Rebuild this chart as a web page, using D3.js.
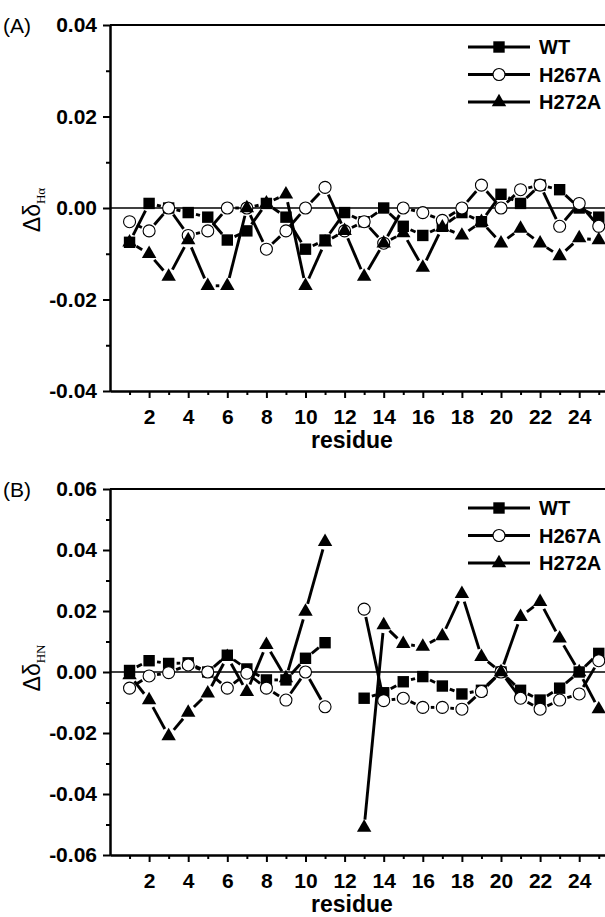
<!DOCTYPE html>
<html>
<head>
<meta charset="utf-8">
<script src="https://cdn.jsdelivr.net/npm/d3@7"></script>
<style>
  body { margin: 0; background: #fff; }
  svg { display: block; }
  .tick text { font-family: "Liberation Sans", Arial, sans-serif; font-weight: bold; font-size: 21px; fill: #000; }
</style>
</head>
<body>
<div id="chart"></div>
<script>
// residue numbers (x categories)
const residues = [1, 2, 3, 4, 5, 6, 7, 8, 9, 10, 11, 12, 13, 14, 15, 16, 17, 18, 19, 20, 21, 22, 23, 24, 25];

// panel A: delta delta H-alpha
const haWT    = [-0.0075, 0.001, 0.000, -0.001, -0.002, -0.007, -0.005, 0.001, -0.002, -0.009, -0.007, -0.001, -0.003, 0.000, -0.004, -0.006, -0.004, -0.001, -0.003, 0.003, 0.001, 0.005, 0.004, 0.000, -0.002];
const haH267A = [-0.003, -0.005, 0.000, -0.006, -0.005, 0.000, 0.000, -0.009, -0.005, 0.000, 0.0045, -0.005, -0.003, -0.0077, 0.000, -0.001, -0.0027, 0.000, 0.005, 0.000, 0.004, 0.005, -0.004, 0.001, -0.004];
const haH272A = [-0.0075, -0.010, -0.015, -0.007, -0.017, -0.017, 0.000, 0.001, 0.003, -0.017, -0.0075, -0.005, -0.015, -0.0077, -0.0055, -0.013, -0.0042, -0.006, -0.003, -0.0077, -0.0045, -0.0077, -0.0105, -0.0066, -0.007];

// panel B: delta delta HN (residue 12 missing)
const hnWT    = [0.0005, 0.0037, 0.0028, 0.003, 0.000, 0.0055, 0.001, -0.0026, -0.0026, 0.0045, 0.0096, null, -0.0086, -0.0068, -0.0032, -0.0015, -0.0046, -0.0072, -0.006, 0.000, -0.006, -0.0092, -0.0053, 0.000, 0.0061];
const hnH267A = [-0.0053, -0.0013, -0.0002, 0.0023, 0.000, -0.0053, -0.0004, -0.0053, -0.0092, 0.000, -0.0114, null, 0.0206, -0.0094, -0.0086, -0.0116, -0.0116, -0.0122, -0.0064, 0.000, -0.0086, -0.0122, -0.0092, -0.0072, 0.0037];
const hnH272A = [-0.001, -0.0092, -0.021, -0.0133, -0.007, 0.005, -0.0065, 0.0089, -0.002, 0.0198, 0.0427, null, -0.051, 0.0154, 0.0092, 0.0083, 0.0118, 0.0256, 0.005, 0.000, 0.0181, 0.023, 0.011, 0.000, -0.0122];

const seriesNames = ["WT", "H267A", "H272A"];
const markers = ["square", "circle", "triangle"];

const xMajor = [2, 4, 6, 8, 10, 12, 14, 16, 18, 20, 22, 24];
const xMinor = [1, 3, 5, 7, 9, 11, 13, 15, 17, 19, 21, 23, 25];
const yTicksA = [-0.04, -0.02, 0.00, 0.02, 0.04];
const yMinorA = [-0.03, -0.01, 0.01, 0.03];
const yTicksB = [-0.06, -0.04, -0.02, 0.00, 0.02, 0.04, 0.06];
const yMinorB = [-0.05, -0.03, -0.01, 0.01, 0.03, 0.05];

const W = 605, H = 917;
const svg = d3.select("#chart").append("svg")
    .attr("width", W)
    .attr("height", H);

const x = d3.scaleLinear().domain([0, 26]).range([110, 110 + 19.55 * 26]);

function drawPanel(opt) {
    let g = svg.append("g");
    let y = d3.scaleLinear().domain(opt.yDomain).range([opt.bottom, opt.top]);

    // frame top / right
    g.append("line")
        .attr("x1", x(0)).attr("x2", x(26))
        .attr("y1", opt.top).attr("y2", opt.top)
        .attr("stroke", "#000").attr("stroke-width", 2);
    g.append("line")
        .attr("x1", x(26)).attr("x2", x(26))
        .attr("y1", opt.top).attr("y2", opt.bottom)
        .attr("stroke", "#000").attr("stroke-width", 2);

    // zero line
    g.append("line")
        .attr("x1", x(0)).attr("x2", x(26))
        .attr("y1", y(0)).attr("y2", y(0))
        .attr("stroke", "#000").attr("stroke-width", 1.5);

    // x axis
    g.append("g").attr("transform", `translate(0,${opt.bottom})`)
        .call(d3.axisBottom(x).tickValues(xMajor).tickSize(7).tickSizeOuter(0).tickPadding(11).tickFormat(d3.format("d")));
    g.append("g").attr("transform", `translate(0,${opt.bottom})`)
        .call(d3.axisBottom(x).tickValues(xMinor).tickSize(4).tickSizeOuter(0).tickFormat(""));

    // y axis
    g.append("g").attr("transform", `translate(${x(0)},0)`)
        .call(d3.axisLeft(y).tickValues(opt.yTicks).tickSize(7).tickSizeOuter(0).tickPadding(6).tickFormat(d3.format(".2f")));
    g.append("g").attr("transform", `translate(${x(0)},0)`)
        .call(d3.axisLeft(y).tickValues(opt.yMinor).tickSize(4).tickSizeOuter(0).tickFormat(""));

    g.selectAll(".domain, .tick line").attr("stroke", "#000").attr("stroke-width", 2);
    g.selectAll(".tick text").text(function () { return this.textContent.replace("−", "-"); });

    // x title
    g.append("text")
        .attr("x", 352).attr("y", opt.bottom + 57)
        .attr("text-anchor", "middle")
        .style("font-family", "Liberation Sans, Arial, sans-serif")
        .style("font-weight", "bold")
        .style("font-size", "23px")
        .text("residue");

    // y title
    let yt = g.append("text")
        .attr("transform", `translate(40,${opt.labelY}) rotate(-90)`)
        .attr("text-anchor", "middle")
        .style("font-family", "Liberation Sans, Arial, sans-serif")
        .style("font-size", "23px");
    yt.append("tspan").text("Δδ");
    yt.append("tspan")
        .attr("dy", 5)
        .style("font-family", "Liberation Serif, Times, serif")
        .style("font-size", "13px")
        .text(opt.sub);

    // panel letter
    g.append("text")
        .attr("x", 3).attr("y", opt.top + 8)
        .style("font-family", "Liberation Sans, Arial, sans-serif")
        .style("font-size", "21px")
        .text(opt.letter);

    // series lines (gapped around symbols)
    let gap = 8;
    opt.series.forEach((vals, s) => {
        let segs = [];
        for (let i = 0; i < residues.length - 1; i++) {
            if (vals[i] == null || vals[i + 1] == null) continue;
            let x0 = x(residues[i]), y0 = y(vals[i]);
            let x1 = x(residues[i + 1]), y1 = y(vals[i + 1]);
            let d = Math.hypot(x1 - x0, y1 - y0);
            if (d <= 2 * gap + 1) continue;
            let ux = (x1 - x0) / d, uy = (y1 - y0) / d;
            segs.push([x0 + ux * gap, y0 + uy * gap, x1 - ux * gap, y1 - uy * gap]);
        }
        g.selectAll(null).data(segs).enter().append("line")
            .attr("x1", d => d[0]).attr("y1", d => d[1])
            .attr("x2", d => d[2]).attr("y2", d => d[3])
            .attr("stroke", "#000")
            .attr("stroke-width", 2.9);
    });

    // symbols
    opt.series.forEach((vals, s) => {
        let pts = residues.map((r, i) => ({r: r, v: vals[i]})).filter(d => d.v != null);
        drawMarker(g.selectAll(null).data(pts).enter(), markers[s], d => x(d.r), d => y(d.v));
    });

    // legend
    let lg = g.append("g");
    seriesNames.forEach((name, s) => {
        let ly = opt.legendY + s * 27.5;
        lg.append("line")
            .attr("x1", 468).attr("x2", 530)
            .attr("y1", ly).attr("y2", ly)
            .attr("stroke", "#000").attr("stroke-width", 2.9);
        drawMarker(lg.selectAll(null).data([0]).enter(), markers[s], () => 499, () => ly);
        lg.append("text")
            .attr("x", 539).attr("y", ly)
            .attr("dy", "0.36em")
            .style("font-family", "Liberation Sans, Arial, sans-serif")
            .style("font-weight", "bold")
            .style("font-size", "20px")
            .text(name);
    });
}

function drawMarker(sel, type, fx, fy) {
    if (type === "circle") {
        sel.append("circle")
            .attr("cx", fx).attr("cy", fy)
            .attr("r", 6)
            .attr("fill", "#fff")
            .attr("stroke", "#000")
            .attr("stroke-width", 1.1);
    } else {
        let sym = type === "square"
            ? d3.symbol().type(d3.symbolSquare).size(130)
            : d3.symbol().type(d3.symbolTriangle).size(90);
        sel.append("path")
            .attr("d", sym)
            .attr("transform", d => `translate(${fx(d)},${fy(d)})`)
            .attr("fill", "#000");
    }
}

drawPanel({
    top: 25, bottom: 391, yDomain: [-0.04, 0.04],
    yTicks: yTicksA, yMinor: yMinorA,
    series: [haWT, haH267A, haH272A],
    letter: "(A)", sub: "Hα", labelY: 210, legendY: 47
});

drawPanel({
    top: 489, bottom: 855, yDomain: [-0.06, 0.06],
    yTicks: yTicksB, yMinor: yMinorB,
    series: [hnWT, hnH267A, hnH272A],
    letter: "(B)", sub: "HN", labelY: 668, legendY: 508
});
</script>
</body>
</html>
